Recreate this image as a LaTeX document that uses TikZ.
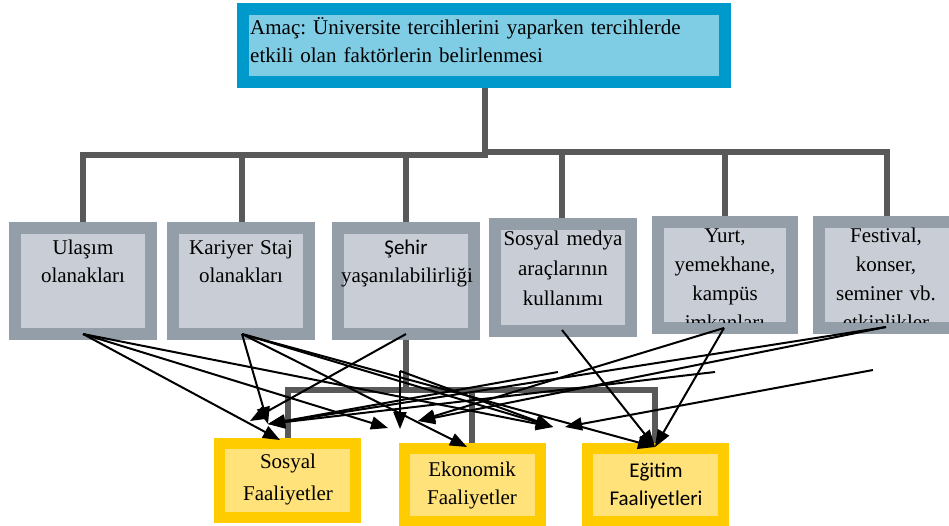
\documentclass[tikz,border=0pt]{standalone}
\usepackage{fontspec}
\setmainfont{Liberation Serif}
\newfontfamily\calibfont{Carlito}
\frenchspacing
\usetikzlibrary{arrows.meta}
\definecolor{goalrim}{HTML}{0099CC}
\definecolor{goalfill}{HTML}{7FCCE5}
\definecolor{factorrim}{HTML}{939EA8}
\definecolor{factorfill}{HTML}{C9CED6}
\definecolor{resultrim}{HTML}{FFCC00}
\definecolor{resultfill}{HTML}{FFE27A}
\definecolor{busgray}{HTML}{595959}
\tikzset{
  goal/.style={draw=goalrim, fill=goalfill, line width=12pt, minimum width=482pt, minimum height=73pt, inner sep=0pt},
  factor/.style={draw=factorrim, fill=factorfill, line width=12pt, minimum width=136pt, minimum height=106pt, inner sep=0pt},
  result/.style={draw=resultrim, fill=resultfill, line width=11pt, minimum width=136pt, minimum height=74pt, inner sep=0pt},
  boxtext/.style={text width=130pt, align=center, inner sep=0pt, anchor=base, font=\fontsize{21}{28}\selectfont},
  bus/.style={draw=busgray, line width=6pt},
  link/.style={-{Triangle[length=17pt,width=13pt]}, line width=2pt}
}
\begin{document}
\begin{tikzpicture}[x=1pt, y=-1pt]
	\useasboundingbox (0,0) rectangle (949,526);
	% gray connectors
	\coordinate (hub) at (485,152);
	\coordinate (low) at (406,390);
	\draw[bus] (485,82) -- (hub);
	\foreach \x in {83,242,406}
	  \draw[bus] (hub) ++(3,3) -| (\x,230);
	\foreach \x in {562,725,887}
	  \draw[bus] (hub) -| (\x,230);
	\draw[bus] (406,334) -- (low);
	\foreach \x in {288,472,655}
	  \draw[bus] (low) -| (\x,446);
	% aim
	\node[goal] (aim) at (484,45.5) {};
	\node[anchor=base west, text width=470pt, inner sep=0pt, font=\fontsize{21}{28}\selectfont] (aimtext) at (250,35)
	  {Amaç: Üniversite tercihlerini yaparken tercihlerde\\etkili olan faktörlerin belirlenmesi};
	% factors
	\node[factor] (f1) at (83,281) {};
	\node[factor] (f2) at (240.5,281) {};
	\node[factor] (f3) at (406,281) {};
	\node[factor, minimum width=136pt] (f4) at (563,277.5) {};
	\node[factor, minimum width=134pt] (f5) at (725,275) {};
	\node[factor] (f6) at (887,275) {};
	\node[boxtext] (t1) at (83,255) {Ulaşım\\olanakları};
	\node[boxtext] (t2) at (241,255) {Kariyer Staj\\olanakları};
	\node[boxtext] (t3) at (406,255) {{\calibfont Şehir}\\yaşanılabilirliği};
	\node[boxtext, font=\fontsize{21}{30}\selectfont] (t4) at (563,246) {Sosyal medya\\araçlarının\\kullanımı};
	\begin{scope}
	  \clip (664,222) rectangle (786,322);
	  \node[boxtext, font=\fontsize{21}{29}\selectfont] (t5) at (725,243) {Yurt,\\yemekhane,\\kampüs\\imkanları};
	\end{scope}
	\begin{scope}
	  \clip (825,222) rectangle (949,322);
	  \node[boxtext, font=\fontsize{21}{29}\selectfont] (t6) at (886,243) {Festival,\\konser,\\seminer vb.\\etkinlikler};
	\end{scope}
	% results
	\node[result] (r1) at (287.5,480.5) {};
	\node[result, minimum height=73pt] (r2) at (472,485) {};
	\node[result, minimum height=73pt] (r3) at (655.5,485) {};
	\node[boxtext, font=\fontsize{21}{32}\selectfont] (u1) at (288,468) {Sosyal\\Faaliyetler};
	\node[boxtext, font=\fontsize{21}{28}\selectfont] (u2) at (472,476) {Ekonomik\\Faaliyetler};
	\node[boxtext, font=\calibfont\fontsize{21}{28}\selectfont] (u3) at (656,477) {Eğitim\\Faaliyetleri};
	% arrow ends
	\coordinate (s1) at (83,334);
	\coordinate (s2) at (242,334);
	\coordinate (s3) at (406,334);
	\coordinate (s4) at (562,330);
	\coordinate (s5) at (724,328);
	\coordinate (s6) at (886,327);
	\coordinate (e1) at (400,371);
	\coordinate (e2) at (558,372);
	\coordinate (e3) at (715,372);
	\coordinate (e4) at (873,370);
	\coordinate (sos) at (280,440);
	\coordinate (sosl) at (250,421);
	\coordinate (sosm) at (268,424);
	\coordinate (ekol) at (388,428);
	\coordinate (ekov) at (400,429);
	\coordinate (ekor) at (418,421);
	\coordinate (eko) at (467,447);
	\coordinate (egil) at (553,427);
	\coordinate (egir) at (565,427);
	\coordinate (egi) at (655,447);
	% arrows
	\draw[link] (s1) -- (sos);
	\draw[link] (s1) -- (ekol);
	\draw[link] (s1) -- (egil);
	\draw[link] (s2) -- (sosm);
	\draw[link] (s2) -- (eko);
	\draw[link] (s2) -- (egil);
	\draw[link] (s2) -- (egi);
	\draw[link] (s3) -- (sosl);
	\draw[link] (s4) -- (egi);
	\draw[link] (s5) -- (egi);
	\draw[link] (s5) -- (ekor);
	\draw[link] (s6) -- (sosm);
	\draw[link] (s6) -- (ekor);
	\draw[link] (e1) -- (ekov);
	\draw[link] (e1) -- (egil);
	\draw[link] (e2) -- (sosm);
	\draw[link] (e3) -- (sosm);
	\draw[link] (e4) -- (egir);
\end{tikzpicture}
\end{document}
